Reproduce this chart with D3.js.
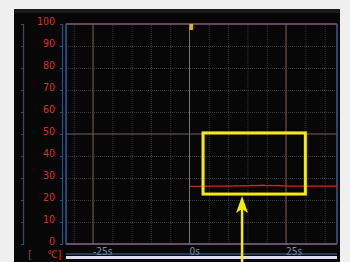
<!DOCTYPE html>
<html>
<head>
<meta charset="utf-8">
<script src="https://cdn.jsdelivr.net/npm/d3@7"></script>
<style>
  body { margin: 0; background: #efefef; }
  svg { display: block; }
</style>
</head>
<body>
<div id="chart"></div>
<script>
// DATA
const yTicks = [0, 10, 20, 30, 40, 50, 60, 70, 80, 90, 100]
const xLabels = [-25, 0, 25]
const xGridSteps = [-30, -25, -20, -15, -10, -5, 0, 5, 10, 15, 20, 25, 30, 35]
const timeSec = [0, 3, 6, 9, 10, 11, 12, 13, 14, 15, 16, 17, 18, 19, 20, 21, 22, 23, 24, 25, 26, 28, 31, 34, 38.2]
const tempC = [26.2, 26.2, 26.3, 26.3, 26.4, 26.3, 26.5, 26.4, 26.5, 26.4, 26.6, 26.5, 26.6, 26.7, 26.5, 26.6, 26.5, 26.6, 26.4, 26.4, 26.3, 26.3, 26.3, 26.3, 26.3]
const unitLabel = "℃]"
const highlightBox = { t0: 3.5, t1: 30, v0: 22.7, v1: 50.5 }
const arrowAt = { t: 13.6, tip: 21.8, tail: -10 }

// DIMENSIONS
const width = 350
const height = 262
let dimensions = {
  width: width,
  height: height,
  margin: { top: 24, right: 13, bottom: 18, left: 66 },
}
dimensions.boundedWidth = dimensions.width - dimensions.margin.left - dimensions.margin.right
dimensions.boundedHeight = dimensions.height - dimensions.margin.top - dimensions.margin.bottom

const font = "'Liberation Sans Narrow', 'DejaVu Sans Condensed', 'Arial Narrow', sans-serif"

const svg = d3.select("#chart").append("svg")
  .attr("width", dimensions.width)
  .attr("height", dimensions.height)

// instrument panel
svg.append("rect").attr("x", 14).attr("y", 9).attr("width", 326).attr("height", 253).attr("fill", "#070707")
svg.append("rect").attr("x", 14).attr("y", 9).attr("width", 326).attr("height", 4).attr("fill", "#1a1a1a")

const bounds = svg.append("g")
  .attr("transform", `translate(${dimensions.margin.left},${dimensions.margin.top})`)

// SCALES
const xScale = d3.scaleLinear()
  .domain([-32, 38.2])
  .range([0, dimensions.boundedWidth])
const yScale = d3.scaleLinear()
  .domain([0, 100])
  .range([dimensions.boundedHeight, 0])

// dotted grid
const gridX = d3.axisBottom(xScale)
  .tickValues(xGridSteps.filter(d => d % 25 !== 0))
  .tickSize(-dimensions.boundedHeight)
  .tickFormat("")
bounds.append("g")
  .attr("transform", `translate(0,${dimensions.boundedHeight})`)
  .call(gridX)
  .call(g => g.select(".domain").remove())
  .call(g => g.selectAll("line").attr("stroke", "#343a3a").attr("stroke-dasharray", "1,1"))

const gridY = d3.axisLeft(yScale)
  .tickValues(yTicks.filter(d => d !== 0 && d !== 100 && d !== 50))
  .tickSize(-dimensions.boundedWidth)
  .tickFormat("")
bounds.append("g")
  .call(gridY)
  .call(g => g.select(".domain").remove())
  .call(g => g.selectAll("line").attr("stroke", "#3a3a36").attr("stroke-dasharray", "1,1"))

// major lines
bounds.selectAll(".major-x").data([-25, 25]).enter()
  .append("line")
  .attr("x1", d => xScale(d)).attr("x2", d => xScale(d))
  .attr("y1", 0).attr("y2", dimensions.boundedHeight)
  .attr("stroke", "#6e504a").attr("stroke-width", 1.2)
bounds.append("line")
  .attr("x1", 0).attr("x2", dimensions.boundedWidth)
  .attr("y1", yScale(50)).attr("y2", yScale(50))
  .attr("stroke", "#7a5e55").attr("stroke-width", 1.2)
bounds.append("line")
  .attr("x1", xScale(0)).attr("x2", xScale(0))
  .attr("y1", 0).attr("y2", dimensions.boundedHeight)
  .attr("stroke", "#5f8288").attr("stroke-width", 1)

// frame
bounds.append("line").attr("x1", 0).attr("x2", dimensions.boundedWidth).attr("y1", 0).attr("y2", 0)
  .attr("stroke", "#8c5a7c").attr("stroke-width", 1.5)
bounds.append("line").attr("x1", 0).attr("x2", dimensions.boundedWidth)
  .attr("y1", dimensions.boundedHeight).attr("y2", dimensions.boundedHeight)
  .attr("stroke", "#8c6a88").attr("stroke-width", 1.5)
bounds.selectAll(".side").data([0, dimensions.boundedWidth]).enter()
  .append("line")
  .attr("x1", d => d).attr("x2", d => d)
  .attr("y1", 0).attr("y2", dimensions.boundedHeight)
  .attr("stroke", "#2e5f8c").attr("stroke-width", 1.5)

// cursor marker
bounds.append("rect")
  .attr("x", xScale(0)).attr("y", 0)
  .attr("width", 3.5).attr("height", 6)
  .attr("fill", "#d8b820")

// blue scale bars on the left
const scaleBar = (x) => {
  const g = svg.append("g").attr("transform", `translate(${x},${dimensions.margin.top})`)
  g.call(d3.axisLeft(yScale).tickValues(yTicks).tickSize(2).tickFormat(""))
  g.selectAll("path, line").attr("stroke", "#2a4f78").attr("stroke-width", 1.2)
}
scaleBar(23)
scaleBar(62)

// y labels
svg.append("g").selectAll("text").data(yTicks).enter()
  .append("text")
  .attr("x", 55)
  .attr("y", d => dimensions.margin.top + yScale(d) + 1)
  .attr("text-anchor", "end")
  .attr("font-family", font)
  .attr("font-size", 10.5)
  .attr("fill", "#c83a30")
  .text(d => d)

svg.append("text").attr("x", 28).attr("y", 258)
  .attr("font-family", font).attr("font-size", 10.5).attr("fill", "#c83a30").text("[")
svg.append("text").attr("x", 47).attr("y", 258)
  .attr("font-family", font).attr("font-size", 10.5).attr("fill", "#c83a30").text(unitLabel)

// x labels
bounds.selectAll(".xlab").data(xLabels).enter()
  .append("text")
  .attr("x", d => xScale(d))
  .attr("y", dimensions.boundedHeight + 11)
  .attr("font-family", font)
  .attr("font-size", 10)
  .attr("fill", "#7d8ea4")
  .text(d => `${d}s`)

// bottom scroll bar
bounds.append("line").attr("x1", 0).attr("x2", dimensions.boundedWidth)
  .attr("y1", dimensions.boundedHeight + 10).attr("y2", dimensions.boundedHeight + 10)
  .attr("stroke", "#4a6fa0").attr("stroke-width", 1)
bounds.append("rect").attr("x", 0).attr("y", dimensions.boundedHeight + 12)
  .attr("width", dimensions.boundedWidth).attr("height", 3)
  .attr("fill", "#dcdcf0")

// data line
const line = d3.line()
  .x((d, i) => xScale(timeSec[i]))
  .y(d => yScale(d))
bounds.append("path")
  .datum(tempC)
  .attr("fill", "none")
  .attr("stroke", "#d82020")
  .attr("stroke-width", 1.3)
  .attr("d", line)

// annotation box and arrow
bounds.append("rect")
  .attr("x", xScale(highlightBox.t0))
  .attr("y", yScale(highlightBox.v1))
  .attr("width", xScale(highlightBox.t1) - xScale(highlightBox.t0))
  .attr("height", yScale(highlightBox.v0) - yScale(highlightBox.v1))
  .attr("fill", "none")
  .attr("stroke", "#f5ea10")
  .attr("stroke-width", 3)

const ax = xScale(arrowAt.t)
const tipY = yScale(arrowAt.tip)
bounds.append("line")
  .attr("x1", ax).attr("x2", ax)
  .attr("y1", tipY + 8).attr("y2", yScale(arrowAt.tail))
  .attr("stroke", "#f5ea10").attr("stroke-width", 2.5)
bounds.append("path")
  .attr("d", `M${ax},${tipY} L${ax + 6},${tipY + 17} L${ax},${tipY + 13} L${ax - 6},${tipY + 17} Z`)
  .attr("fill", "#f5ea10")
</script>
</body>
</html>
